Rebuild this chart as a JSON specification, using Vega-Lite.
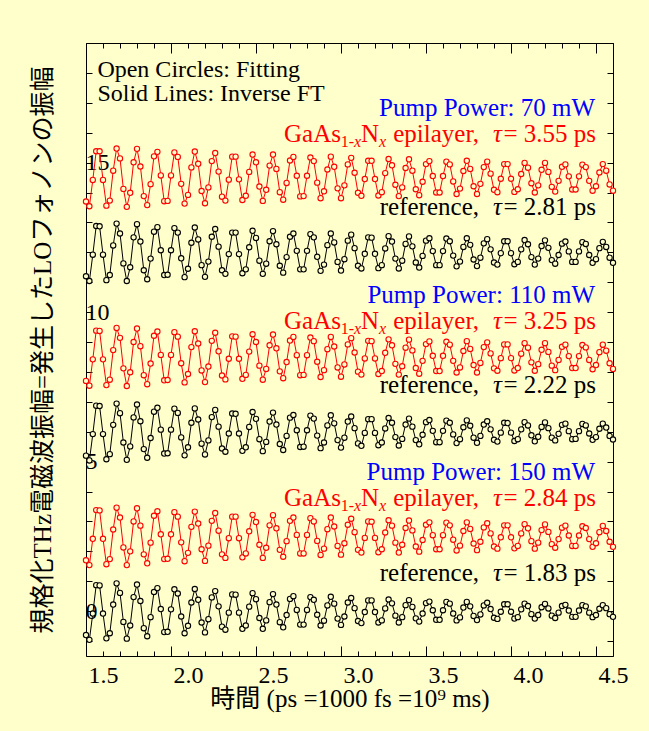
{
"$schema": "https://vega.github.io/schema/vega-lite/v6.json",
"width": 527,
"height": 613,
"autosize": {"type": "none"},
"padding": {"left": 86, "top": 43, "right": 36, "bottom": 75},
"background": "#FFFFCC",
"config": {
  "view": {"stroke": null},
  "axis": {"domainColor": "black", "tickColor": "black", "labelColor": "black", "titleColor": "black", "labelFont": "Liberation Serif", "labelFontSize": 24, "labelFontWeight": "normal", "titleFontWeight": "normal", "grid": false, "labelOverlap": false, "labelFlush": false, "domainWidth": 1, "tickWidth": 1},
  "text": {"font": "Liberation Serif", "fontSize": 25, "baseline": "alphabetic"}
},
"data": {"values": [{}]},
"datasets": {"w": [
{"t":1.4,"s":"a","v":13.70},{"t":1.42,"s":"a","v":13.54},{"t":1.44,"s":"a","v":14.42},{"t":1.46,"s":"a","v":15.38},{"t":1.48,"s":"a","v":15.38},{"t":1.5,"s":"a","v":14.42},{"t":1.52,"s":"a","v":13.56},{"t":1.54,"s":"a","v":13.73},{"t":1.56,"s":"a","v":14.73},{"t":1.58,"s":"a","v":15.47},
{"t":1.6,"s":"a","v":15.14},{"t":1.62,"s":"a","v":14.12},{"t":1.64,"s":"a","v":13.52},{"t":1.66,"s":"a","v":13.99},{"t":1.68,"s":"a","v":15.01},{"t":1.7,"s":"a","v":15.46},{"t":1.72,"s":"a","v":14.87},{"t":1.74,"s":"a","v":13.88},{"t":1.76,"s":"a","v":13.58},{"t":1.78,"s":"a","v":14.28},
{"t":1.8,"s":"a","v":15.21},{"t":1.82,"s":"a","v":15.36},{"t":1.84,"s":"a","v":14.57},{"t":1.86,"s":"a","v":13.71},{"t":1.88,"s":"a","v":13.72},{"t":1.9,"s":"a","v":14.57},{"t":1.92,"s":"a","v":15.34},{"t":1.94,"s":"a","v":15.19},{"t":1.96,"s":"a","v":14.29},{"t":1.98,"s":"a","v":13.63},
{"t":2,"s":"a","v":13.92},{"t":2.02,"s":"a","v":14.84},{"t":2.04,"s":"a","v":15.37},{"t":2.06,"s":"a","v":14.96},{"t":2.08,"s":"a","v":14.05},{"t":2.1,"s":"a","v":13.64},{"t":2.12,"s":"a","v":14.17},{"t":2.14,"s":"a","v":15.05},{"t":2.16,"s":"a","v":15.32},{"t":2.18,"s":"a","v":14.70},
{"t":2.2,"s":"a","v":13.86},{"t":2.22,"s":"a","v":13.73},{"t":2.24,"s":"a","v":14.43},{"t":2.26,"s":"a","v":15.20},{"t":2.28,"s":"a","v":15.20},{"t":2.3,"s":"a","v":14.44},{"t":2.32,"s":"a","v":13.75},{"t":2.34,"s":"a","v":13.89},{"t":2.36,"s":"a","v":14.69},{"t":2.38,"s":"a","v":15.27},
{"t":2.4,"s":"a","v":15.01},{"t":2.42,"s":"a","v":14.20},{"t":2.44,"s":"a","v":13.72},{"t":2.46,"s":"a","v":14.09},{"t":2.48,"s":"a","v":14.90},{"t":2.5,"s":"a","v":15.27},{"t":2.52,"s":"a","v":14.79},{"t":2.54,"s":"a","v":14.01},{"t":2.56,"s":"a","v":13.76},{"t":2.58,"s":"a","v":14.32},
{"t":2.6,"s":"a","v":15.07},{"t":2.62,"s":"a","v":15.19},{"t":2.64,"s":"a","v":14.56},{"t":2.66,"s":"a","v":13.87},{"t":2.68,"s":"a","v":13.88},{"t":2.7,"s":"a","v":14.56},{"t":2.72,"s":"a","v":15.17},{"t":2.74,"s":"a","v":15.05},{"t":2.76,"s":"a","v":14.33},{"t":2.78,"s":"a","v":13.81},
{"t":2.8,"s":"a","v":14.04},{"t":2.82,"s":"a","v":14.77},{"t":2.84,"s":"a","v":15.20},{"t":2.86,"s":"a","v":14.86},{"t":2.88,"s":"a","v":14.14},{"t":2.9,"s":"a","v":13.81},{"t":2.92,"s":"a","v":14.24},{"t":2.94,"s":"a","v":14.94},{"t":2.96,"s":"a","v":15.16},{"t":2.98,"s":"a","v":14.66},
{"t":3,"s":"a","v":13.99},{"t":3.02,"s":"a","v":13.89},{"t":3.04,"s":"a","v":14.45},{"t":3.06,"s":"a","v":15.06},{"t":3.08,"s":"a","v":15.06},{"t":3.1,"s":"a","v":14.45},{"t":3.12,"s":"a","v":13.90},{"t":3.14,"s":"a","v":14.01},{"t":3.16,"s":"a","v":14.65},{"t":3.18,"s":"a","v":15.12},
{"t":3.2,"s":"a","v":14.91},{"t":3.22,"s":"a","v":14.26},{"t":3.24,"s":"a","v":13.88},{"t":3.26,"s":"a","v":14.17},{"t":3.28,"s":"a","v":14.82},{"t":3.3,"s":"a","v":15.11},{"t":3.32,"s":"a","v":14.73},{"t":3.34,"s":"a","v":14.11},{"t":3.36,"s":"a","v":13.91},{"t":3.38,"s":"a","v":14.36},
{"t":3.4,"s":"a","v":14.95},{"t":3.42,"s":"a","v":15.05},{"t":3.44,"s":"a","v":14.55},{"t":3.46,"s":"a","v":14.00},{"t":3.48,"s":"a","v":14.00},{"t":3.5,"s":"a","v":14.55},{"t":3.52,"s":"a","v":15.03},{"t":3.54,"s":"a","v":14.94},{"t":3.56,"s":"a","v":14.37},{"t":3.58,"s":"a","v":13.95},
{"t":3.6,"s":"a","v":14.13},{"t":3.62,"s":"a","v":14.72},{"t":3.64,"s":"a","v":15.06},{"t":3.66,"s":"a","v":14.79},{"t":3.68,"s":"a","v":14.21},{"t":3.7,"s":"a","v":13.95},{"t":3.72,"s":"a","v":14.29},{"t":3.74,"s":"a","v":14.85},{"t":3.76,"s":"a","v":15.03},{"t":3.78,"s":"a","v":14.63},
{"t":3.8,"s":"a","v":14.09},{"t":3.82,"s":"a","v":14.01},{"t":3.84,"s":"a","v":14.46},{"t":3.86,"s":"a","v":14.95},{"t":3.88,"s":"a","v":14.95},{"t":3.9,"s":"a","v":14.46},{"t":3.92,"s":"a","v":14.02},{"t":3.94,"s":"a","v":14.11},{"t":3.96,"s":"a","v":14.62},{"t":3.98,"s":"a","v":14.99},
{"t":4,"s":"a","v":14.83},{"t":4.02,"s":"a","v":14.31},{"t":4.04,"s":"a","v":14.00},{"t":4.06,"s":"a","v":14.24},{"t":4.08,"s":"a","v":14.76},{"t":4.1,"s":"a","v":14.99},{"t":4.12,"s":"a","v":14.69},{"t":4.14,"s":"a","v":14.19},{"t":4.16,"s":"a","v":14.03},{"t":4.18,"s":"a","v":14.39},
{"t":4.2,"s":"a","v":14.86},{"t":4.22,"s":"a","v":14.94},{"t":4.24,"s":"a","v":14.54},{"t":4.26,"s":"a","v":14.10},{"t":4.28,"s":"a","v":14.10},{"t":4.3,"s":"a","v":14.54},{"t":4.32,"s":"a","v":14.93},{"t":4.34,"s":"a","v":14.85},{"t":4.36,"s":"a","v":14.39},{"t":4.38,"s":"a","v":14.06},
{"t":4.4,"s":"a","v":14.21},{"t":4.42,"s":"a","v":14.67},{"t":4.44,"s":"a","v":14.95},{"t":4.46,"s":"a","v":14.73},{"t":4.48,"s":"a","v":14.27},{"t":4.5,"s":"a","v":14.06},
{"t":1.4,"s":"b","v":11.20},{"t":1.42,"s":"b","v":11.04},{"t":1.44,"s":"b","v":11.92},{"t":1.46,"s":"b","v":12.88},{"t":1.48,"s":"b","v":12.87},{"t":1.5,"s":"b","v":11.92},{"t":1.52,"s":"b","v":11.07},{"t":1.54,"s":"b","v":11.24},{"t":1.56,"s":"b","v":12.23},{"t":1.58,"s":"b","v":12.96},
{"t":1.6,"s":"b","v":12.63},{"t":1.62,"s":"b","v":11.63},{"t":1.64,"s":"b","v":11.04},{"t":1.66,"s":"b","v":11.50},{"t":1.68,"s":"b","v":12.50},{"t":1.7,"s":"b","v":12.94},{"t":1.72,"s":"b","v":12.36},{"t":1.74,"s":"b","v":11.40},{"t":1.76,"s":"b","v":11.10},{"t":1.78,"s":"b","v":11.79},
{"t":1.8,"s":"b","v":12.69},{"t":1.82,"s":"b","v":12.84},{"t":1.84,"s":"b","v":12.07},{"t":1.86,"s":"b","v":11.24},{"t":1.88,"s":"b","v":11.25},{"t":1.9,"s":"b","v":12.07},{"t":1.92,"s":"b","v":12.81},{"t":1.94,"s":"b","v":12.66},{"t":1.96,"s":"b","v":11.80},{"t":1.98,"s":"b","v":11.17},
{"t":2,"s":"b","v":11.45},{"t":2.02,"s":"b","v":12.32},{"t":2.04,"s":"b","v":12.83},{"t":2.06,"s":"b","v":12.43},{"t":2.08,"s":"b","v":11.57},{"t":2.1,"s":"b","v":11.18},{"t":2.12,"s":"b","v":11.69},{"t":2.14,"s":"b","v":12.52},{"t":2.16,"s":"b","v":12.78},{"t":2.18,"s":"b","v":12.19},
{"t":2.2,"s":"b","v":11.40},{"t":2.22,"s":"b","v":11.28},{"t":2.24,"s":"b","v":11.94},{"t":2.26,"s":"b","v":12.66},{"t":2.28,"s":"b","v":12.66},{"t":2.3,"s":"b","v":11.94},{"t":2.32,"s":"b","v":11.30},{"t":2.34,"s":"b","v":11.43},{"t":2.36,"s":"b","v":12.17},{"t":2.38,"s":"b","v":12.72},
{"t":2.4,"s":"b","v":12.48},{"t":2.42,"s":"b","v":11.72},{"t":2.44,"s":"b","v":11.28},{"t":2.46,"s":"b","v":11.62},{"t":2.48,"s":"b","v":12.37},{"t":2.5,"s":"b","v":12.71},{"t":2.52,"s":"b","v":12.27},{"t":2.54,"s":"b","v":11.55},{"t":2.56,"s":"b","v":11.32},{"t":2.58,"s":"b","v":11.84},
{"t":2.6,"s":"b","v":12.52},{"t":2.62,"s":"b","v":12.63},{"t":2.64,"s":"b","v":12.05},{"t":2.66,"s":"b","v":11.43},{"t":2.68,"s":"b","v":11.43},{"t":2.7,"s":"b","v":12.05},{"t":2.72,"s":"b","v":12.61},{"t":2.74,"s":"b","v":12.50},{"t":2.76,"s":"b","v":11.85},{"t":2.78,"s":"b","v":11.38},
{"t":2.8,"s":"b","v":11.59},{"t":2.82,"s":"b","v":12.24},{"t":2.84,"s":"b","v":12.63},{"t":2.86,"s":"b","v":12.33},{"t":2.88,"s":"b","v":11.68},{"t":2.9,"s":"b","v":11.39},{"t":2.92,"s":"b","v":11.77},{"t":2.94,"s":"b","v":12.39},{"t":2.96,"s":"b","v":12.59},{"t":2.98,"s":"b","v":12.14},
{"t":3,"s":"b","v":11.55},{"t":3.02,"s":"b","v":11.46},{"t":3.04,"s":"b","v":11.95},{"t":3.06,"s":"b","v":12.50},{"t":3.08,"s":"b","v":12.49},{"t":3.1,"s":"b","v":11.95},{"t":3.12,"s":"b","v":11.47},{"t":3.14,"s":"b","v":11.57},{"t":3.16,"s":"b","v":12.13},{"t":3.18,"s":"b","v":12.54},
{"t":3.2,"s":"b","v":12.36},{"t":3.22,"s":"b","v":11.79},{"t":3.24,"s":"b","v":11.46},{"t":3.26,"s":"b","v":11.72},{"t":3.28,"s":"b","v":12.28},{"t":3.3,"s":"b","v":12.53},{"t":3.32,"s":"b","v":12.20},{"t":3.34,"s":"b","v":11.66},{"t":3.36,"s":"b","v":11.49},{"t":3.38,"s":"b","v":11.88},
{"t":3.4,"s":"b","v":12.39},{"t":3.42,"s":"b","v":12.47},{"t":3.44,"s":"b","v":12.04},{"t":3.46,"s":"b","v":11.57},{"t":3.48,"s":"b","v":11.57},{"t":3.5,"s":"b","v":12.04},{"t":3.52,"s":"b","v":12.46},{"t":3.54,"s":"b","v":12.37},{"t":3.56,"s":"b","v":11.89},{"t":3.58,"s":"b","v":11.53},
{"t":3.6,"s":"b","v":11.69},{"t":3.62,"s":"b","v":12.18},{"t":3.64,"s":"b","v":12.47},{"t":3.66,"s":"b","v":12.25},{"t":3.68,"s":"b","v":11.76},{"t":3.7,"s":"b","v":11.54},{"t":3.72,"s":"b","v":11.82},{"t":3.74,"s":"b","v":12.30},{"t":3.76,"s":"b","v":12.44},{"t":3.78,"s":"b","v":12.10},
{"t":3.8,"s":"b","v":11.66},{"t":3.82,"s":"b","v":11.59},{"t":3.84,"s":"b","v":11.97},{"t":3.86,"s":"b","v":12.37},{"t":3.88,"s":"b","v":12.37},{"t":3.9,"s":"b","v":11.97},{"t":3.92,"s":"b","v":11.60},{"t":3.94,"s":"b","v":11.68},{"t":3.96,"s":"b","v":12.10},{"t":3.98,"s":"b","v":12.41},
{"t":4,"s":"b","v":12.27},{"t":4.02,"s":"b","v":11.84},{"t":4.04,"s":"b","v":11.59},{"t":4.06,"s":"b","v":11.79},{"t":4.08,"s":"b","v":12.21},{"t":4.1,"s":"b","v":12.40},{"t":4.12,"s":"b","v":12.15},{"t":4.14,"s":"b","v":11.74},{"t":4.16,"s":"b","v":11.62},{"t":4.18,"s":"b","v":11.91},
{"t":4.2,"s":"b","v":12.29},{"t":4.22,"s":"b","v":12.36},{"t":4.24,"s":"b","v":12.03},{"t":4.26,"s":"b","v":11.68},{"t":4.28,"s":"b","v":11.68},{"t":4.3,"s":"b","v":12.03},{"t":4.32,"s":"b","v":12.34},{"t":4.34,"s":"b","v":12.28},{"t":4.36,"s":"b","v":11.91},{"t":4.38,"s":"b","v":11.65},
{"t":4.4,"s":"b","v":11.77},{"t":4.42,"s":"b","v":12.14},{"t":4.44,"s":"b","v":12.35},{"t":4.46,"s":"b","v":12.18},{"t":4.48,"s":"b","v":11.82},{"t":4.5,"s":"b","v":11.65},
{"t":1.4,"s":"c","v":7.70},{"t":1.42,"s":"c","v":7.54},{"t":1.44,"s":"c","v":8.42},{"t":1.46,"s":"c","v":9.38},{"t":1.48,"s":"c","v":9.37},{"t":1.5,"s":"c","v":8.42},{"t":1.52,"s":"c","v":7.56},{"t":1.54,"s":"c","v":7.74},{"t":1.56,"s":"c","v":8.73},{"t":1.58,"s":"c","v":9.47},
{"t":1.6,"s":"c","v":9.14},{"t":1.62,"s":"c","v":8.12},{"t":1.64,"s":"c","v":7.53},{"t":1.66,"s":"c","v":7.99},{"t":1.68,"s":"c","v":9.00},{"t":1.7,"s":"c","v":9.45},{"t":1.72,"s":"c","v":8.86},{"t":1.74,"s":"c","v":7.89},{"t":1.76,"s":"c","v":7.59},{"t":1.78,"s":"c","v":8.28},
{"t":1.8,"s":"c","v":9.21},{"t":1.82,"s":"c","v":9.35},{"t":1.84,"s":"c","v":8.57},{"t":1.86,"s":"c","v":7.72},{"t":1.88,"s":"c","v":7.73},{"t":1.9,"s":"c","v":8.57},{"t":1.92,"s":"c","v":9.33},{"t":1.94,"s":"c","v":9.18},{"t":1.96,"s":"c","v":8.29},{"t":1.98,"s":"c","v":7.65},
{"t":2,"s":"c","v":7.93},{"t":2.02,"s":"c","v":8.83},{"t":2.04,"s":"c","v":9.36},{"t":2.06,"s":"c","v":8.95},{"t":2.08,"s":"c","v":8.05},{"t":2.1,"s":"c","v":7.66},{"t":2.12,"s":"c","v":8.18},{"t":2.14,"s":"c","v":9.04},{"t":2.16,"s":"c","v":9.31},{"t":2.18,"s":"c","v":8.69},
{"t":2.2,"s":"c","v":7.88},{"t":2.22,"s":"c","v":7.75},{"t":2.24,"s":"c","v":8.44},{"t":2.26,"s":"c","v":9.19},{"t":2.28,"s":"c","v":9.18},{"t":2.3,"s":"c","v":8.44},{"t":2.32,"s":"c","v":7.77},{"t":2.34,"s":"c","v":7.90},{"t":2.36,"s":"c","v":8.68},{"t":2.38,"s":"c","v":9.26},
{"t":2.4,"s":"c","v":9.00},{"t":2.42,"s":"c","v":8.21},{"t":2.44,"s":"c","v":7.74},{"t":2.46,"s":"c","v":8.10},{"t":2.48,"s":"c","v":8.89},{"t":2.5,"s":"c","v":9.25},{"t":2.52,"s":"c","v":8.79},{"t":2.54,"s":"c","v":8.02},{"t":2.56,"s":"c","v":7.79},{"t":2.58,"s":"c","v":8.33},
{"t":2.6,"s":"c","v":9.05},{"t":2.62,"s":"c","v":9.17},{"t":2.64,"s":"c","v":8.56},{"t":2.66,"s":"c","v":7.89},{"t":2.68,"s":"c","v":7.90},{"t":2.7,"s":"c","v":8.56},{"t":2.72,"s":"c","v":9.15},{"t":2.74,"s":"c","v":9.03},{"t":2.76,"s":"c","v":8.34},{"t":2.78,"s":"c","v":7.83},
{"t":2.8,"s":"c","v":8.06},{"t":2.82,"s":"c","v":8.76},{"t":2.84,"s":"c","v":9.17},{"t":2.86,"s":"c","v":8.85},{"t":2.88,"s":"c","v":8.15},{"t":2.9,"s":"c","v":7.84},{"t":2.92,"s":"c","v":8.25},{"t":2.94,"s":"c","v":8.92},{"t":2.96,"s":"c","v":9.13},{"t":2.98,"s":"c","v":8.65},
{"t":3,"s":"c","v":8.01},{"t":3.02,"s":"c","v":7.91},{"t":3.04,"s":"c","v":8.45},{"t":3.06,"s":"c","v":9.04},{"t":3.08,"s":"c","v":9.03},{"t":3.1,"s":"c","v":8.45},{"t":3.12,"s":"c","v":7.93},{"t":3.14,"s":"c","v":8.03},{"t":3.16,"s":"c","v":8.64},{"t":3.18,"s":"c","v":9.09},
{"t":3.2,"s":"c","v":8.89},{"t":3.22,"s":"c","v":8.27},{"t":3.24,"s":"c","v":7.91},{"t":3.26,"s":"c","v":8.19},{"t":3.28,"s":"c","v":8.81},{"t":3.3,"s":"c","v":9.08},{"t":3.32,"s":"c","v":8.72},{"t":3.34,"s":"c","v":8.13},{"t":3.36,"s":"c","v":7.94},{"t":3.38,"s":"c","v":8.37},
{"t":3.4,"s":"c","v":8.93},{"t":3.42,"s":"c","v":9.02},{"t":3.44,"s":"c","v":8.54},{"t":3.46,"s":"c","v":8.03},{"t":3.48,"s":"c","v":8.03},{"t":3.5,"s":"c","v":8.54},{"t":3.52,"s":"c","v":9.01},{"t":3.54,"s":"c","v":8.91},{"t":3.56,"s":"c","v":8.37},{"t":3.58,"s":"c","v":7.98},
{"t":3.6,"s":"c","v":8.15},{"t":3.62,"s":"c","v":8.70},{"t":3.64,"s":"c","v":9.03},{"t":3.66,"s":"c","v":8.77},{"t":3.68,"s":"c","v":8.23},{"t":3.7,"s":"c","v":7.98},{"t":3.72,"s":"c","v":8.30},{"t":3.74,"s":"c","v":8.83},{"t":3.76,"s":"c","v":8.99},{"t":3.78,"s":"c","v":8.62},
{"t":3.8,"s":"c","v":8.12},{"t":3.82,"s":"c","v":8.04},{"t":3.84,"s":"c","v":8.46},{"t":3.86,"s":"c","v":8.92},{"t":3.88,"s":"c","v":8.92},{"t":3.9,"s":"c","v":8.46},{"t":3.92,"s":"c","v":8.05},{"t":3.94,"s":"c","v":8.13},{"t":3.96,"s":"c","v":8.61},{"t":3.98,"s":"c","v":8.96},
{"t":4,"s":"c","v":8.81},{"t":4.02,"s":"c","v":8.32},{"t":4.04,"s":"c","v":8.04},{"t":4.06,"s":"c","v":8.26},{"t":4.08,"s":"c","v":8.74},{"t":4.1,"s":"c","v":8.96},{"t":4.12,"s":"c","v":8.67},{"t":4.14,"s":"c","v":8.21},{"t":4.16,"s":"c","v":8.06},{"t":4.18,"s":"c","v":8.40},
{"t":4.2,"s":"c","v":8.84},{"t":4.22,"s":"c","v":8.91},{"t":4.24,"s":"c","v":8.53},{"t":4.26,"s":"c","v":8.13},{"t":4.28,"s":"c","v":8.13},{"t":4.3,"s":"c","v":8.53},{"t":4.32,"s":"c","v":8.90},{"t":4.34,"s":"c","v":8.82},{"t":4.36,"s":"c","v":8.40},{"t":4.38,"s":"c","v":8.09},
{"t":4.4,"s":"c","v":8.23},{"t":4.42,"s":"c","v":8.66},{"t":4.44,"s":"c","v":8.91},{"t":4.46,"s":"c","v":8.71},{"t":4.48,"s":"c","v":8.29},{"t":4.5,"s":"c","v":8.10},
{"t":1.4,"s":"d","v":5.20},{"t":1.42,"s":"d","v":5.04},{"t":1.44,"s":"d","v":5.92},{"t":1.46,"s":"d","v":6.87},{"t":1.48,"s":"d","v":6.86},{"t":1.5,"s":"d","v":5.92},{"t":1.52,"s":"d","v":5.08},{"t":1.54,"s":"d","v":5.25},{"t":1.56,"s":"d","v":6.23},{"t":1.58,"s":"d","v":6.94},
{"t":1.6,"s":"d","v":6.62},{"t":1.62,"s":"d","v":5.64},{"t":1.64,"s":"d","v":5.06},{"t":1.66,"s":"d","v":5.51},{"t":1.68,"s":"d","v":6.48},{"t":1.7,"s":"d","v":6.91},{"t":1.72,"s":"d","v":6.35},{"t":1.74,"s":"d","v":5.42},{"t":1.76,"s":"d","v":5.13},{"t":1.78,"s":"d","v":5.79},
{"t":1.8,"s":"d","v":6.67},{"t":1.82,"s":"d","v":6.80},{"t":1.84,"s":"d","v":6.07},{"t":1.86,"s":"d","v":5.27},{"t":1.88,"s":"d","v":5.28},{"t":1.9,"s":"d","v":6.07},{"t":1.92,"s":"d","v":6.77},{"t":1.94,"s":"d","v":6.63},{"t":1.96,"s":"d","v":5.81},{"t":1.98,"s":"d","v":5.21},
{"t":2,"s":"d","v":5.48},{"t":2.02,"s":"d","v":6.30},{"t":2.04,"s":"d","v":6.78},{"t":2.06,"s":"d","v":6.41},{"t":2.08,"s":"d","v":5.60},{"t":2.1,"s":"d","v":5.24},{"t":2.12,"s":"d","v":5.71},{"t":2.14,"s":"d","v":6.49},{"t":2.16,"s":"d","v":6.73},{"t":2.18,"s":"d","v":6.17},
{"t":2.2,"s":"d","v":5.44},{"t":2.22,"s":"d","v":5.33},{"t":2.24,"s":"d","v":5.94},{"t":2.26,"s":"d","v":6.61},{"t":2.28,"s":"d","v":6.60},{"t":2.3,"s":"d","v":5.94},{"t":2.32,"s":"d","v":5.36},{"t":2.34,"s":"d","v":5.48},{"t":2.36,"s":"d","v":6.16},{"t":2.38,"s":"d","v":6.66},
{"t":2.4,"s":"d","v":6.43},{"t":2.42,"s":"d","v":5.75},{"t":2.44,"s":"d","v":5.35},{"t":2.46,"s":"d","v":5.66},{"t":2.48,"s":"d","v":6.34},{"t":2.5,"s":"d","v":6.64},{"t":2.52,"s":"d","v":6.24},{"t":2.54,"s":"d","v":5.59},{"t":2.56,"s":"d","v":5.39},{"t":2.58,"s":"d","v":5.86},
{"t":2.6,"s":"d","v":6.47},{"t":2.62,"s":"d","v":6.56},{"t":2.64,"s":"d","v":6.05},{"t":2.66,"s":"d","v":5.49},{"t":2.68,"s":"d","v":5.50},{"t":2.7,"s":"d","v":6.05},{"t":2.72,"s":"d","v":6.54},{"t":2.74,"s":"d","v":6.44},{"t":2.76,"s":"d","v":5.87},{"t":2.78,"s":"d","v":5.45},
{"t":2.8,"s":"d","v":5.64},{"t":2.82,"s":"d","v":6.21},{"t":2.84,"s":"d","v":6.55},{"t":2.86,"s":"d","v":6.28},{"t":2.88,"s":"d","v":5.72},{"t":2.9,"s":"d","v":5.47},{"t":2.92,"s":"d","v":5.80},{"t":2.94,"s":"d","v":6.34},{"t":2.96,"s":"d","v":6.51},{"t":2.98,"s":"d","v":6.12},
{"t":3,"s":"d","v":5.61},{"t":3.02,"s":"d","v":5.53},{"t":3.04,"s":"d","v":5.96},{"t":3.06,"s":"d","v":6.42},{"t":3.08,"s":"d","v":6.42},{"t":3.1,"s":"d","v":5.96},{"t":3.12,"s":"d","v":5.55},{"t":3.14,"s":"d","v":5.64},{"t":3.16,"s":"d","v":6.11},{"t":3.18,"s":"d","v":6.46},
{"t":3.2,"s":"d","v":6.30},{"t":3.22,"s":"d","v":5.82},{"t":3.24,"s":"d","v":5.54},{"t":3.26,"s":"d","v":5.76},{"t":3.28,"s":"d","v":6.24},{"t":3.3,"s":"d","v":6.44},{"t":3.32,"s":"d","v":6.17},{"t":3.34,"s":"d","v":5.72},{"t":3.36,"s":"d","v":5.58},{"t":3.38,"s":"d","v":5.90},
{"t":3.4,"s":"d","v":6.32},{"t":3.42,"s":"d","v":6.39},{"t":3.44,"s":"d","v":6.03},{"t":3.46,"s":"d","v":5.65},{"t":3.48,"s":"d","v":5.65},{"t":3.5,"s":"d","v":6.03},{"t":3.52,"s":"d","v":6.37},{"t":3.54,"s":"d","v":6.30},{"t":3.56,"s":"d","v":5.91},{"t":3.58,"s":"d","v":5.62},
{"t":3.6,"s":"d","v":5.75},{"t":3.62,"s":"d","v":6.15},{"t":3.64,"s":"d","v":6.38},{"t":3.66,"s":"d","v":6.20},{"t":3.68,"s":"d","v":5.80},{"t":3.7,"s":"d","v":5.63},{"t":3.72,"s":"d","v":5.86},{"t":3.74,"s":"d","v":6.24},{"t":3.76,"s":"d","v":6.35},{"t":3.78,"s":"d","v":6.08},
{"t":3.8,"s":"d","v":5.73},{"t":3.82,"s":"d","v":5.67},{"t":3.84,"s":"d","v":5.97},{"t":3.86,"s":"d","v":6.30},{"t":3.88,"s":"d","v":6.29},{"t":3.9,"s":"d","v":5.97},{"t":3.92,"s":"d","v":5.69},{"t":3.94,"s":"d","v":5.75},{"t":3.96,"s":"d","v":6.08},{"t":3.98,"s":"d","v":6.32},
{"t":4,"s":"d","v":6.21},{"t":4.02,"s":"d","v":5.88},{"t":4.04,"s":"d","v":5.68},{"t":4.06,"s":"d","v":5.83},{"t":4.08,"s":"d","v":6.16},{"t":4.1,"s":"d","v":6.31},{"t":4.12,"s":"d","v":6.12},{"t":4.14,"s":"d","v":5.80},{"t":4.16,"s":"d","v":5.71},{"t":4.18,"s":"d","v":5.93},
{"t":4.2,"s":"d","v":6.23},{"t":4.22,"s":"d","v":6.27},{"t":4.24,"s":"d","v":6.02},{"t":4.26,"s":"d","v":5.75},{"t":4.28,"s":"d","v":5.76},{"t":4.3,"s":"d","v":6.02},{"t":4.32,"s":"d","v":6.26},{"t":4.34,"s":"d","v":6.21},{"t":4.36,"s":"d","v":5.94},{"t":4.38,"s":"d","v":5.73},
{"t":4.4,"s":"d","v":5.82},{"t":4.42,"s":"d","v":6.10},{"t":4.44,"s":"d","v":6.27},{"t":4.46,"s":"d","v":6.14},{"t":4.48,"s":"d","v":5.86},{"t":4.5,"s":"d","v":5.74},
{"t":1.4,"s":"e","v":1.70},{"t":1.42,"s":"e","v":1.54},{"t":1.44,"s":"e","v":2.42},{"t":1.46,"s":"e","v":3.38},{"t":1.48,"s":"e","v":3.37},{"t":1.5,"s":"e","v":2.42},{"t":1.52,"s":"e","v":1.57},{"t":1.54,"s":"e","v":1.74},{"t":1.56,"s":"e","v":2.73},{"t":1.58,"s":"e","v":3.46},
{"t":1.6,"s":"e","v":3.13},{"t":1.62,"s":"e","v":2.13},{"t":1.64,"s":"e","v":1.54},{"t":1.66,"s":"e","v":2.00},{"t":1.68,"s":"e","v":3.00},{"t":1.7,"s":"e","v":3.44},{"t":1.72,"s":"e","v":2.86},{"t":1.74,"s":"e","v":1.90},{"t":1.76,"s":"e","v":1.60},{"t":1.78,"s":"e","v":2.29},
{"t":1.8,"s":"e","v":3.19},{"t":1.82,"s":"e","v":3.34},{"t":1.84,"s":"e","v":2.57},{"t":1.86,"s":"e","v":1.74},{"t":1.88,"s":"e","v":1.75},{"t":1.9,"s":"e","v":2.57},{"t":1.92,"s":"e","v":3.31},{"t":1.94,"s":"e","v":3.16},{"t":1.96,"s":"e","v":2.30},{"t":1.98,"s":"e","v":1.67},
{"t":2,"s":"e","v":1.95},{"t":2.02,"s":"e","v":2.82},{"t":2.04,"s":"e","v":3.33},{"t":2.06,"s":"e","v":2.93},{"t":2.08,"s":"e","v":2.07},{"t":2.1,"s":"e","v":1.68},{"t":2.12,"s":"e","v":2.19},{"t":2.14,"s":"e","v":3.02},{"t":2.16,"s":"e","v":3.28},{"t":2.18,"s":"e","v":2.69},
{"t":2.2,"s":"e","v":1.90},{"t":2.22,"s":"e","v":1.78},{"t":2.24,"s":"e","v":2.44},{"t":2.26,"s":"e","v":3.16},{"t":2.28,"s":"e","v":3.16},{"t":2.3,"s":"e","v":2.44},{"t":2.32,"s":"e","v":1.80},{"t":2.34,"s":"e","v":1.93},{"t":2.36,"s":"e","v":2.67},{"t":2.38,"s":"e","v":3.22},
{"t":2.4,"s":"e","v":2.98},{"t":2.42,"s":"e","v":2.22},{"t":2.44,"s":"e","v":1.78},{"t":2.46,"s":"e","v":2.12},{"t":2.48,"s":"e","v":2.87},{"t":2.5,"s":"e","v":3.21},{"t":2.52,"s":"e","v":2.77},{"t":2.54,"s":"e","v":2.05},{"t":2.56,"s":"e","v":1.82},{"t":2.58,"s":"e","v":2.34},
{"t":2.6,"s":"e","v":3.02},{"t":2.62,"s":"e","v":3.13},{"t":2.64,"s":"e","v":2.55},{"t":2.66,"s":"e","v":1.93},{"t":2.68,"s":"e","v":1.93},{"t":2.7,"s":"e","v":2.55},{"t":2.72,"s":"e","v":3.11},{"t":2.74,"s":"e","v":3.00},{"t":2.76,"s":"e","v":2.35},{"t":2.78,"s":"e","v":1.88},
{"t":2.8,"s":"e","v":2.09},{"t":2.82,"s":"e","v":2.74},{"t":2.84,"s":"e","v":3.13},{"t":2.86,"s":"e","v":2.83},{"t":2.88,"s":"e","v":2.18},{"t":2.9,"s":"e","v":1.89},{"t":2.92,"s":"e","v":2.27},{"t":2.94,"s":"e","v":2.89},{"t":2.96,"s":"e","v":3.09},{"t":2.98,"s":"e","v":2.64},
{"t":3,"s":"e","v":2.05},{"t":3.02,"s":"e","v":1.96},{"t":3.04,"s":"e","v":2.45},{"t":3.06,"s":"e","v":3.00},{"t":3.08,"s":"e","v":2.99},{"t":3.1,"s":"e","v":2.45},{"t":3.12,"s":"e","v":1.97},{"t":3.14,"s":"e","v":2.07},{"t":3.16,"s":"e","v":2.63},{"t":3.18,"s":"e","v":3.04},
{"t":3.2,"s":"e","v":2.86},{"t":3.22,"s":"e","v":2.29},{"t":3.24,"s":"e","v":1.96},{"t":3.26,"s":"e","v":2.22},{"t":3.28,"s":"e","v":2.78},{"t":3.3,"s":"e","v":3.03},{"t":3.32,"s":"e","v":2.70},{"t":3.34,"s":"e","v":2.16},{"t":3.36,"s":"e","v":1.99},{"t":3.38,"s":"e","v":2.38},
{"t":3.4,"s":"e","v":2.89},{"t":3.42,"s":"e","v":2.97},{"t":3.44,"s":"e","v":2.54},{"t":3.46,"s":"e","v":2.07},{"t":3.48,"s":"e","v":2.07},{"t":3.5,"s":"e","v":2.54},{"t":3.52,"s":"e","v":2.96},{"t":3.54,"s":"e","v":2.87},{"t":3.56,"s":"e","v":2.39},{"t":3.58,"s":"e","v":2.03},
{"t":3.6,"s":"e","v":2.19},{"t":3.62,"s":"e","v":2.68},{"t":3.64,"s":"e","v":2.97},{"t":3.66,"s":"e","v":2.75},{"t":3.68,"s":"e","v":2.26},{"t":3.7,"s":"e","v":2.04},{"t":3.72,"s":"e","v":2.32},{"t":3.74,"s":"e","v":2.80},{"t":3.76,"s":"e","v":2.94},{"t":3.78,"s":"e","v":2.60},
{"t":3.8,"s":"e","v":2.16},{"t":3.82,"s":"e","v":2.09},{"t":3.84,"s":"e","v":2.47},{"t":3.86,"s":"e","v":2.87},{"t":3.88,"s":"e","v":2.87},{"t":3.9,"s":"e","v":2.47},{"t":3.92,"s":"e","v":2.10},{"t":3.94,"s":"e","v":2.18},{"t":3.96,"s":"e","v":2.60},{"t":3.98,"s":"e","v":2.91},
{"t":4,"s":"e","v":2.77},{"t":4.02,"s":"e","v":2.34},{"t":4.04,"s":"e","v":2.09},{"t":4.06,"s":"e","v":2.29},{"t":4.08,"s":"e","v":2.71},{"t":4.1,"s":"e","v":2.90},{"t":4.12,"s":"e","v":2.65},{"t":4.14,"s":"e","v":2.24},{"t":4.16,"s":"e","v":2.12},{"t":4.18,"s":"e","v":2.41},
{"t":4.2,"s":"e","v":2.79},{"t":4.22,"s":"e","v":2.86},{"t":4.24,"s":"e","v":2.53},{"t":4.26,"s":"e","v":2.18},{"t":4.28,"s":"e","v":2.18},{"t":4.3,"s":"e","v":2.53},{"t":4.32,"s":"e","v":2.84},{"t":4.34,"s":"e","v":2.78},{"t":4.36,"s":"e","v":2.41},{"t":4.38,"s":"e","v":2.15},
{"t":4.4,"s":"e","v":2.27},{"t":4.42,"s":"e","v":2.64},{"t":4.44,"s":"e","v":2.85},{"t":4.46,"s":"e","v":2.68},{"t":4.48,"s":"e","v":2.32},{"t":4.5,"s":"e","v":2.15},
{"t":1.4,"s":"f","v":-0.80},{"t":1.42,"s":"f","v":-0.96},{"t":1.44,"s":"f","v":-0.08},{"t":1.46,"s":"f","v":0.87},{"t":1.48,"s":"f","v":0.86},{"t":1.5,"s":"f","v":-0.08},{"t":1.52,"s":"f","v":-0.91},{"t":1.54,"s":"f","v":-0.74},{"t":1.56,"s":"f","v":0.22},{"t":1.58,"s":"f","v":0.93},
{"t":1.6,"s":"f","v":0.61},{"t":1.62,"s":"f","v":-0.36},{"t":1.64,"s":"f","v":-0.92},{"t":1.66,"s":"f","v":-0.48},{"t":1.68,"s":"f","v":0.47},{"t":1.7,"s":"f","v":0.89},{"t":1.72,"s":"f","v":0.34},{"t":1.74,"s":"f","v":-0.57},{"t":1.76,"s":"f","v":-0.84},{"t":1.78,"s":"f","v":-0.20},
{"t":1.8,"s":"f","v":0.64},{"t":1.82,"s":"f","v":0.77},{"t":1.84,"s":"f","v":0.07},{"t":1.86,"s":"f","v":-0.70},{"t":1.88,"s":"f","v":-0.69},{"t":1.9,"s":"f","v":0.06},{"t":1.92,"s":"f","v":0.73},{"t":1.94,"s":"f","v":0.59},{"t":1.96,"s":"f","v":-0.18},{"t":1.98,"s":"f","v":-0.74},
{"t":2,"s":"f","v":-0.49},{"t":2.02,"s":"f","v":0.29},{"t":2.04,"s":"f","v":0.74},{"t":2.06,"s":"f","v":0.38},{"t":2.08,"s":"f","v":-0.38},{"t":2.1,"s":"f","v":-0.71},{"t":2.12,"s":"f","v":-0.27},{"t":2.14,"s":"f","v":0.46},{"t":2.16,"s":"f","v":0.67},{"t":2.18,"s":"f","v":0.16},
{"t":2.2,"s":"f","v":-0.52},{"t":2.22,"s":"f","v":-0.62},{"t":2.24,"s":"f","v":-0.05},{"t":2.26,"s":"f","v":0.56},{"t":2.28,"s":"f","v":0.55},{"t":2.3,"s":"f","v":-0.05},{"t":2.32,"s":"f","v":-0.59},{"t":2.34,"s":"f","v":-0.48},{"t":2.36,"s":"f","v":0.15},{"t":2.38,"s":"f","v":0.60},
{"t":2.4,"s":"f","v":0.40},{"t":2.42,"s":"f","v":-0.23},{"t":2.44,"s":"f","v":-0.59},{"t":2.46,"s":"f","v":-0.31},{"t":2.48,"s":"f","v":0.30},{"t":2.5,"s":"f","v":0.57},{"t":2.52,"s":"f","v":0.22},{"t":2.54,"s":"f","v":-0.37},{"t":2.56,"s":"f","v":-0.54},{"t":2.58,"s":"f","v":-0.13},
{"t":2.6,"s":"f","v":0.41},{"t":2.62,"s":"f","v":0.50},{"t":2.64,"s":"f","v":0.04},{"t":2.66,"s":"f","v":-0.45},{"t":2.68,"s":"f","v":-0.45},{"t":2.7,"s":"f","v":0.04},{"t":2.72,"s":"f","v":0.47},{"t":2.74,"s":"f","v":0.38},{"t":2.76,"s":"f","v":-0.12},{"t":2.78,"s":"f","v":-0.48},
{"t":2.8,"s":"f","v":-0.32},{"t":2.82,"s":"f","v":0.19},{"t":2.84,"s":"f","v":0.48},{"t":2.86,"s":"f","v":0.25},{"t":2.88,"s":"f","v":-0.25},{"t":2.9,"s":"f","v":-0.46},{"t":2.92,"s":"f","v":-0.18},{"t":2.94,"s":"f","v":0.29},{"t":2.96,"s":"f","v":0.44},{"t":2.98,"s":"f","v":0.10},
{"t":3,"s":"f","v":-0.33},{"t":3.02,"s":"f","v":-0.40},{"t":3.04,"s":"f","v":-0.03},{"t":3.06,"s":"f","v":0.36},{"t":3.08,"s":"f","v":0.36},{"t":3.1,"s":"f","v":-0.03},{"t":3.12,"s":"f","v":-0.38},{"t":3.14,"s":"f","v":-0.31},{"t":3.16,"s":"f","v":0.09},{"t":3.18,"s":"f","v":0.39},
{"t":3.2,"s":"f","v":0.26},{"t":3.22,"s":"f","v":-0.15},{"t":3.24,"s":"f","v":-0.38},{"t":3.26,"s":"f","v":-0.20},{"t":3.28,"s":"f","v":0.20},{"t":3.3,"s":"f","v":0.37},{"t":3.32,"s":"f","v":0.14},{"t":3.34,"s":"f","v":-0.24},{"t":3.36,"s":"f","v":-0.35},{"t":3.38,"s":"f","v":-0.08},
{"t":3.4,"s":"f","v":0.27},{"t":3.42,"s":"f","v":0.32},{"t":3.44,"s":"f","v":0.03},{"t":3.46,"s":"f","v":-0.29},{"t":3.48,"s":"f","v":-0.29},{"t":3.5,"s":"f","v":0.03},{"t":3.52,"s":"f","v":0.31},{"t":3.54,"s":"f","v":0.25},{"t":3.56,"s":"f","v":-0.08},{"t":3.58,"s":"f","v":-0.31},
{"t":3.6,"s":"f","v":-0.21},{"t":3.62,"s":"f","v":0.12},{"t":3.64,"s":"f","v":0.31},{"t":3.66,"s":"f","v":0.16},{"t":3.68,"s":"f","v":-0.16},{"t":3.7,"s":"f","v":-0.30},{"t":3.72,"s":"f","v":-0.11},{"t":3.74,"s":"f","v":0.19},{"t":3.76,"s":"f","v":0.28},{"t":3.78,"s":"f","v":0.07},
{"t":3.8,"s":"f","v":-0.22},{"t":3.82,"s":"f","v":-0.26},{"t":3.84,"s":"f","v":-0.02},{"t":3.86,"s":"f","v":0.23},{"t":3.88,"s":"f","v":0.23},{"t":3.9,"s":"f","v":-0.02},{"t":3.92,"s":"f","v":-0.25},{"t":3.94,"s":"f","v":-0.20},{"t":3.96,"s":"f","v":0.06},{"t":3.98,"s":"f","v":0.25},
{"t":4,"s":"f","v":0.17},{"t":4.02,"s":"f","v":-0.10},{"t":4.04,"s":"f","v":-0.25},{"t":4.06,"s":"f","v":-0.13},{"t":4.08,"s":"f","v":0.13},{"t":4.1,"s":"f","v":0.24},{"t":4.12,"s":"f","v":0.09},{"t":4.14,"s":"f","v":-0.15},{"t":4.16,"s":"f","v":-0.23},{"t":4.18,"s":"f","v":-0.05},
{"t":4.2,"s":"f","v":0.17},{"t":4.22,"s":"f","v":0.21},{"t":4.24,"s":"f","v":0.02},{"t":4.26,"s":"f","v":-0.19},{"t":4.28,"s":"f","v":-0.19},{"t":4.3,"s":"f","v":0.02},{"t":4.32,"s":"f","v":0.20},{"t":4.34,"s":"f","v":0.16},{"t":4.36,"s":"f","v":-0.05},{"t":4.38,"s":"f","v":-0.20},
{"t":4.4,"s":"f","v":-0.13},{"t":4.42,"s":"f","v":0.08},{"t":4.44,"s":"f","v":0.20},{"t":4.46,"s":"f","v":0.10},{"t":4.48,"s":"f","v":-0.10},{"t":4.5,"s":"f","v":-0.19}
]},
"layer": [
  {
    "data": {"name": "w"},
    "mark": {"type": "line", "strokeWidth": 1},
    "encoding": {
      "x": {"field": "t", "type": "quantitative",
        "scale": {"domain": [1.4, 4.5], "nice": false, "zero": false},
        "axis": {"orient": "bottom",
          "values": [1.4,1.5,1.6,1.7,1.8,1.9,2,2.1,2.2,2.3,2.4,2.5,2.6,2.7,2.8,2.9,3,3.1,3.2,3.3,3.4,3.5,3.6,3.7,3.8,3.9,4,4.1,4.2,4.3,4.4,4.5],
          "tickSize": {"condition": {"test": "indexof([1.4,1.9,2.4,2.9,3.4,3.9,4.4], datum.value) >= 0", "value": -10}, "value": -5},
          "labelExpr": "indexof([1.5,2,2.5,3,3.5,4,4.5], datum.value) >= 0 ? format(datum.value, '.1f') : ''",
          "labelBaseline": "top", "labelPadding": 12,
          "title": "時間 (ps =1000 fs =10⁹ ms)",
          "titleFont": "Liberation Serif, Noto Sans CJK JP", "titleFontSize": 25, "titlePadding": -1}},
      "y": {"field": "v", "type": "quantitative",
        "scale": {"domain": [-1.5, 19], "nice": false, "zero": false},
        "axis": {"orient": "left",
          "values": [-1,0,1,2,3,4,5,6,7,8,9,10,11,12,13,14,15,16,17,18,19],
          "tickSize": -6,
          "labelExpr": "datum.value % 5 === 0 ? datum.label : ''",
          "labelAlign": "left", "labelBaseline": "middle", "labelPadding": 7,
          "title": "規格化THz電磁波振幅=発生したLOフォノンの振幅",
          "titleFont": "Liberation Serif, Noto Sans CJK JP", "titleFontSize": 25, "titlePadding": 30}},
      "color": {"field": "s", "type": "nominal",
        "scale": {"domain": ["a","b","c","d","e","f"], "range": ["#FF0000","#000000","#FF0000","#000000","#FF0000","#000000"]},
        "legend": null}
    }
  },
  {
    "data": {"name": "w"},
    "mark": {"type": "point", "shape": "circle", "filled": true, "fill": "#FFFFCC", "size": 28, "strokeWidth": 1.1, "opacity": 1},
    "encoding": {
      "x": {"field": "t", "type": "quantitative",
        "scale": {"domain": [1.4, 4.5], "nice": false, "zero": false},
        "axis": {"orient": "top",
          "values": [1.4,1.5,1.6,1.7,1.8,1.9,2,2.1,2.2,2.3,2.4,2.5,2.6,2.7,2.8,2.9,3,3.1,3.2,3.3,3.4,3.5,3.6,3.7,3.8,3.9,4,4.1,4.2,4.3,4.4,4.5],
          "tickSize": {"condition": {"test": "indexof([1.4,1.9,2.4,2.9,3.4,3.9,4.4], datum.value) >= 0", "value": -10}, "value": -5},
          "labels": false, "title": null}},
      "y": {"field": "v", "type": "quantitative",
        "scale": {"domain": [-1.5, 19], "nice": false, "zero": false},
        "axis": {"orient": "right",
          "values": [-1,0,1,2,3,4,5,6,7,8,9,10,11,12,13,14,15,16,17,18,19],
          "tickSize": -6, "labels": false, "title": null}},
      "stroke": {"field": "s", "type": "nominal",
        "scale": {"domain": ["a","b","c","d","e","f"], "range": ["#FF0000","#000000","#FF0000","#000000","#FF0000","#000000"]},
        "legend": null}
    }
  },
  {
    "encoding": {"x": {"datum": 1.467, "type": "quantitative", "axis": null}, "y": {"datum": 17.86, "type": "quantitative", "axis": null}},
    "mark": {"type": "text", "text": "Open Circles: Fitting", "align": "left", "fontSize": 24, "color": "#000000"}
  },
  {
    "encoding": {"x": {"datum": 1.467, "type": "quantitative", "axis": null}, "y": {"datum": 17.06, "type": "quantitative", "axis": null}},
    "mark": {"type": "text", "text": "Solid Lines: Inverse FT", "align": "left", "fontSize": 24, "color": "#000000"}
  },
  {
    "encoding": {"x": {"datum": 4.4, "type": "quantitative", "axis": null}, "y": {"datum": 16.56, "type": "quantitative", "axis": null}},
    "mark": {"type": "text", "text": "Pump Power: 70 mW", "align": "right", "dx": -1, "color": "#0000FF"}
  },
  {
    "encoding": {"x": {"datum": 4.4, "type": "quantitative", "axis": null}, "y": {"datum": 10.29, "type": "quantitative", "axis": null}},
    "mark": {"type": "text", "text": "Pump Power: 110 mW", "align": "right", "dx": -1, "color": "#0000FF"}
  },
  {
    "encoding": {"x": {"datum": 4.4, "type": "quantitative", "axis": null}, "y": {"datum": 4.38, "type": "quantitative", "axis": null}},
    "mark": {"type": "text", "text": "Pump Power: 150 mW", "align": "right", "dx": -1, "color": "#0000FF"}
  },
  {
    "encoding": {"x": {"datum": 4.4, "type": "quantitative", "axis": null}, "y": {"datum": 15.69, "type": "quantitative", "axis": null}},
    "layer": [
      {"mark": {"type": "text", "text": "= 3.55 ps", "align": "right", "color": "#FF0000"}},
      {"mark": {"type": "text", "text": "τ", "align": "right", "dx": -94, "fontStyle": "italic", "color": "#FF0000"}},
      {"mark": {"type": "text", "text": "epilayer,", "align": "right", "dx": -117, "color": "#FF0000"}},
      {"mark": {"type": "text", "text": "x", "align": "right", "dx": -210, "dy": 5, "fontSize": 16, "fontStyle": "italic", "color": "#FF0000"}},
      {"mark": {"type": "text", "text": "N", "align": "right", "dx": -217, "color": "#FF0000"}},
      {"mark": {"type": "text", "text": "x", "align": "right", "dx": -235, "dy": 5, "fontSize": 16, "fontStyle": "italic", "color": "#FF0000"}},
      {"mark": {"type": "text", "text": "1-", "align": "right", "dx": -242, "dy": 5, "fontSize": 16, "color": "#FF0000"}},
      {"mark": {"type": "text", "text": "GaAs", "align": "right", "dx": -255, "color": "#FF0000"}}
    ]
  },
  {
    "encoding": {"x": {"datum": 4.4, "type": "quantitative", "axis": null}, "y": {"datum": 9.42, "type": "quantitative", "axis": null}},
    "layer": [
      {"mark": {"type": "text", "text": "= 3.25 ps", "align": "right", "color": "#FF0000"}},
      {"mark": {"type": "text", "text": "τ", "align": "right", "dx": -94, "fontStyle": "italic", "color": "#FF0000"}},
      {"mark": {"type": "text", "text": "epilayer,", "align": "right", "dx": -117, "color": "#FF0000"}},
      {"mark": {"type": "text", "text": "x", "align": "right", "dx": -210, "dy": 5, "fontSize": 16, "fontStyle": "italic", "color": "#FF0000"}},
      {"mark": {"type": "text", "text": "N", "align": "right", "dx": -217, "color": "#FF0000"}},
      {"mark": {"type": "text", "text": "x", "align": "right", "dx": -235, "dy": 5, "fontSize": 16, "fontStyle": "italic", "color": "#FF0000"}},
      {"mark": {"type": "text", "text": "1-", "align": "right", "dx": -242, "dy": 5, "fontSize": 16, "color": "#FF0000"}},
      {"mark": {"type": "text", "text": "GaAs", "align": "right", "dx": -255, "color": "#FF0000"}}
    ]
  },
  {
    "encoding": {"x": {"datum": 4.4, "type": "quantitative", "axis": null}, "y": {"datum": 3.52, "type": "quantitative", "axis": null}},
    "layer": [
      {"mark": {"type": "text", "text": "= 2.84 ps", "align": "right", "color": "#FF0000"}},
      {"mark": {"type": "text", "text": "τ", "align": "right", "dx": -94, "fontStyle": "italic", "color": "#FF0000"}},
      {"mark": {"type": "text", "text": "epilayer,", "align": "right", "dx": -117, "color": "#FF0000"}},
      {"mark": {"type": "text", "text": "x", "align": "right", "dx": -210, "dy": 5, "fontSize": 16, "fontStyle": "italic", "color": "#FF0000"}},
      {"mark": {"type": "text", "text": "N", "align": "right", "dx": -217, "color": "#FF0000"}},
      {"mark": {"type": "text", "text": "x", "align": "right", "dx": -235, "dy": 5, "fontSize": 16, "fontStyle": "italic", "color": "#FF0000"}},
      {"mark": {"type": "text", "text": "1-", "align": "right", "dx": -242, "dy": 5, "fontSize": 16, "color": "#FF0000"}},
      {"mark": {"type": "text", "text": "GaAs", "align": "right", "dx": -255, "color": "#FF0000"}}
    ]
  },
  {
    "encoding": {"x": {"datum": 4.4, "type": "quantitative", "axis": null}, "y": {"datum": 13.26, "type": "quantitative", "axis": null}},
    "layer": [
      {"mark": {"type": "text", "text": "= 2.81 ps", "align": "right", "color": "#000000"}},
      {"mark": {"type": "text", "text": "τ", "align": "right", "dx": -94, "fontStyle": "italic", "color": "#000000"}},
      {"mark": {"type": "text", "text": "reference,", "align": "right", "dx": -117, "color": "#000000"}}
    ]
  },
  {
    "encoding": {"x": {"datum": 4.4, "type": "quantitative", "axis": null}, "y": {"datum": 7.29, "type": "quantitative", "axis": null}},
    "layer": [
      {"mark": {"type": "text", "text": "= 2.22 ps", "align": "right", "color": "#000000"}},
      {"mark": {"type": "text", "text": "τ", "align": "right", "dx": -94, "fontStyle": "italic", "color": "#000000"}},
      {"mark": {"type": "text", "text": "reference,", "align": "right", "dx": -117, "color": "#000000"}}
    ]
  },
  {
    "encoding": {"x": {"datum": 4.4, "type": "quantitative", "axis": null}, "y": {"datum": 1.0, "type": "quantitative", "axis": null}},
    "layer": [
      {"mark": {"type": "text", "text": "= 1.83 ps", "align": "right", "color": "#000000"}},
      {"mark": {"type": "text", "text": "τ", "align": "right", "dx": -94, "fontStyle": "italic", "color": "#000000"}},
      {"mark": {"type": "text", "text": "reference,", "align": "right", "dx": -117, "color": "#000000"}}
    ]
  }
],
"resolve": {"axis": {"x": "independent", "y": "independent"}}
}
